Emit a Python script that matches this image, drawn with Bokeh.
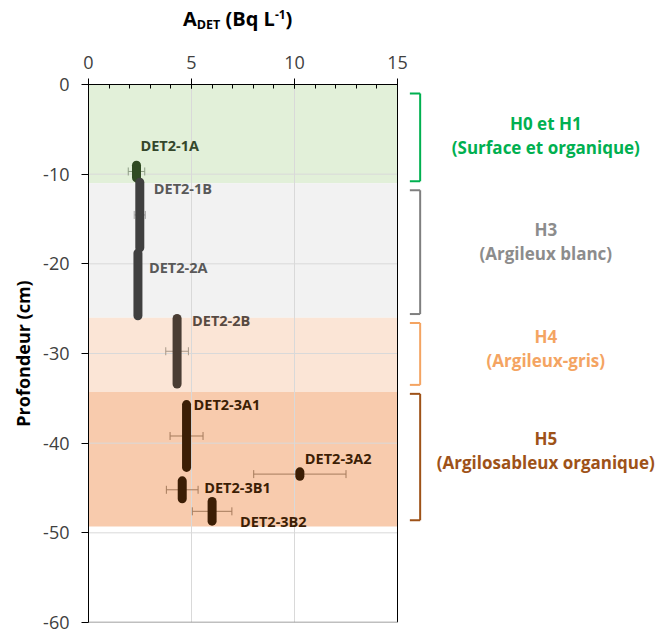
from math import pi
from bokeh.plotting import figure
from bokeh.layouts import column
from bokeh.models import Range1d, FixedTicker, Div
from bokeh.core.properties import value
from bokeh.embed import file_html
from bokeh.resources import INLINE

# ---------------- data ----------------
samples = ["DET2-1A", "DET2-1B", "DET2-2A", "DET2-2B",
           "DET2-3A1", "DET2-3A2", "DET2-3B1", "DET2-3B2"]
activity = [2.33, 2.49, 2.40, 4.30, 4.76, 10.26, 4.55, 6.00]          # Bq/L
activity_err = [0.40, 0.27, 0.15, 0.55, 0.80, 2.24, 0.77, 0.96]      # +/- Bq/L
depth_top = [-9.0, -10.9, -18.8, -26.1, -35.7, -43.2, -44.2, -46.5]  # cm
depth_bottom = [-10.4, -18.2, -25.8, -33.4, -42.7, -43.7, -46.2, -48.7]

horizon_name = ["H0 et H1", "H3", "H4", "H5"]
horizon_desc = ["(Surface et organique)", "(Argileux blanc)",
                "(Argileux-gris)", "(Argilosableux organique)"]
horizon_top = [0, -11, -26, -34.3]
horizon_bottom = [-11, -26, -34.3, -49.3]
bracket_top = [-1.0, -11.8, -26.6, -34.5]
bracket_bottom = [-10.8, -25.6, -33.5, -48.6]

x_ticks = [0, 5, 10, 15]
y_ticks = [0, -10, -20, -30, -40, -50, -60]
x_title = ("A", "DET", " (Bq L", "-1", ")")
y_title = "Profondeur (cm)"

# ---------------- styles ----------------
FONT_NAME = "Open Sans"
FONT = value(FONT_NAME)
band_colors = ["#e2f0d9", "#f2f2f2", "#fbe5d6", "#f8cbad"]
horizon_colors = ["#00b050", "#8c8c8c", "#f4a462", "#9e5218"]
bracket_colors = ["#00b050", "#7f7f7f", "#f4a462", "#9e5218"]
line_colors = ["#2f4a22", "#404040", "#404040", "#4a3d33",
               "#3c1e05", "#3c1e05", "#3c1e05", "#3c1e05"]
err_colors = ["#8c9c84", "#a6a6a6", "#a6a6a6", "#a89888",
              "#a57b5c", "#a57b5c", "#a57b5c", "#a57b5c"]
label_colors = ["#34472b", "#595959", "#595959", "#574a42",
                "#3c1e05", "#3c1e05", "#3c1e05", "#3c1e05"]
label_dx = [4, 14, 11, 15, 7, 5, 22, 28]
label_dy = [-20, 6, 14, 2, 0, -13, 7, 20]
horizon_label_y = [-5.74, -17.56, -29.4, -40.8]
horizon_label_x = 22.2
bracket_x = 16.1
bracket_x0 = 15.6

W = 657
DIV_H = 40
FIG_H = 633 - DIV_H
LEFT, TOP, BOTTOM = 88, 84 - DIV_H, 11
X_END = (W - LEFT) / 20.6

# ---------------- title (HTML, with subscript / superscript) ----------------
a, sub, mid_txt, sup, end = x_title
title_html = (
    f'<div style="font-family:\'{FONT_NAME}\';font-weight:bold;font-size:20px;'
    f'line-height:20px;color:#000;padding:9px 0 0 183px;white-space:nowrap;margin:0;">'
    f'{a}<span style="font-size:12.5px;vertical-align:-2.5px;line-height:0;">{sub}</span>'
    f'{mid_txt}<span style="font-size:12px;vertical-align:7px;line-height:0;">{sup}</span>'
    f'{end}</div>'
)
div = Div(text=title_html, width=W, height=DIV_H, margin=0)

p = figure(width=W, height=FIG_H,
           x_range=Range1d(0, X_END), y_range=Range1d(y_ticks[-1], y_ticks[0]),
           x_axis_location="above", output_backend="svg", toolbar_location=None,
           min_border_left=LEFT, min_border_top=TOP, min_border_right=0,
           min_border_bottom=BOTTOM, margin=0)
p.outline_line_color = None
p.background_fill_color = "white"
p.border_fill_color = "white"

# axes
xa = p.xaxis[0]
xa.bounds = (x_ticks[0], x_ticks[-1])
xa.ticker = FixedTicker(ticks=x_ticks, minor_ticks=list(range(x_ticks[0], x_ticks[-1] + 1)))
xa.major_tick_out = 6
xa.major_tick_in = 4
xa.minor_tick_out = 0
xa.minor_tick_in = 4
xa.axis_line_color = "black"
xa.major_tick_line_color = "black"
xa.minor_tick_line_color = "black"
xa.major_label_text_font = FONT_NAME
xa.major_label_text_font_size = "18px"
xa.major_label_text_color = "#404040"
xa.major_label_standoff = 10

ya = p.yaxis[0]
ya.ticker = FixedTicker(ticks=y_ticks)
ya.major_label_overrides = {t: str(t) for t in y_ticks}
ya.major_tick_out = 7
ya.major_tick_in = 0
ya.minor_tick_out = 0
ya.axis_line_color = "black"
ya.major_tick_line_color = "black"
ya.major_label_text_font = FONT_NAME
ya.major_label_text_font_size = "18px"
ya.major_label_text_color = "#404040"
ya.major_label_standoff = 12
ya.axis_label = y_title
ya.axis_label_text_font = FONT_NAME
ya.axis_label_text_font_style = "bold"
ya.axis_label_text_font_size = "18px"
ya.axis_label_text_color = "black"
ya.axis_label_standoff = 5

p.xgrid.ticker = FixedTicker(ticks=x_ticks[1:-1])
p.xgrid.grid_line_color = "#d9d9d9"
p.ygrid.grid_line_color = None

# horizon bands (under grid)
p.quad(left=x_ticks[0], right=x_ticks[-1], top=horizon_top, bottom=horizon_bottom,
       fill_color=band_colors, line_color=None, level="image")

# horizontal grid lines limited to plot area
gy = y_ticks[1:-1]
p.segment(x0=[x_ticks[0]] * len(gy), x1=[x_ticks[-1]] * len(gy), y0=gy, y1=gy,
          line_color="#d9d9d9", line_width=1, level="underlay")

# plot area border (right, bottom)
p.segment(x0=[x_ticks[-1]], x1=[x_ticks[-1]], y0=[y_ticks[0]], y1=[y_ticks[-1]],
          line_color="black", line_width=1)
p.segment(x0=[x_ticks[0]], x1=[x_ticks[-1]], y0=[y_ticks[-1]], y1=[y_ticks[-1]],
          line_color="#808080", line_width=1.5)

# error bars
mid = [(t + b) / 2 for t, b in zip(depth_top, depth_bottom)]
lo = [a_ - e for a_, e in zip(activity, activity_err)]
hi = [a_ + e for a_, e in zip(activity, activity_err)]
p.segment(x0=lo, x1=hi, y0=mid, y1=mid, line_color=err_colors, line_width=1)
p.scatter(x=lo + hi, y=mid + mid, marker="dash", angle=pi / 2, size=8,
          line_color=err_colors + err_colors, line_width=1)

# thick depth segments
p.segment(x0=activity, x1=activity, y0=depth_top, y1=depth_bottom,
          line_color=line_colors, line_width=9, line_cap="round")

# sample labels
p.text(x=activity, y=depth_top, text=samples, x_offset=label_dx, y_offset=label_dy,
       text_font=FONT, text_font_style="bold", text_font_size="14.5px",
       text_color=label_colors, text_align="left", text_baseline="middle")

# brackets
p.segment(x0=[bracket_x] * 4, x1=[bracket_x] * 4, y0=bracket_top, y1=bracket_bottom,
          line_color=bracket_colors, line_width=2)
p.segment(x0=[bracket_x0] * 4, x1=[bracket_x] * 4, y0=bracket_top, y1=bracket_top,
          line_color=bracket_colors, line_width=2)
p.segment(x0=[bracket_x0] * 4, x1=[bracket_x] * 4, y0=bracket_bottom, y1=bracket_bottom,
          line_color=bracket_colors, line_width=2)

# horizon texts
p.text(x=[horizon_label_x] * 4, y=horizon_label_y, text=horizon_name, y_offset=-12,
       text_font=FONT, text_font_style="bold", text_font_size="17px",
       text_color=horizon_colors, text_align="center", text_baseline="middle")
p.text(x=[horizon_label_x] * 4, y=horizon_label_y, text=horizon_desc, y_offset=12,
       text_font=FONT, text_font_style="bold", text_font_size="17px",
       text_color=horizon_colors, text_align="center", text_baseline="middle")

layout = column(div, p, spacing=0)
open("out.html", "w").write(file_html(layout, INLINE))
